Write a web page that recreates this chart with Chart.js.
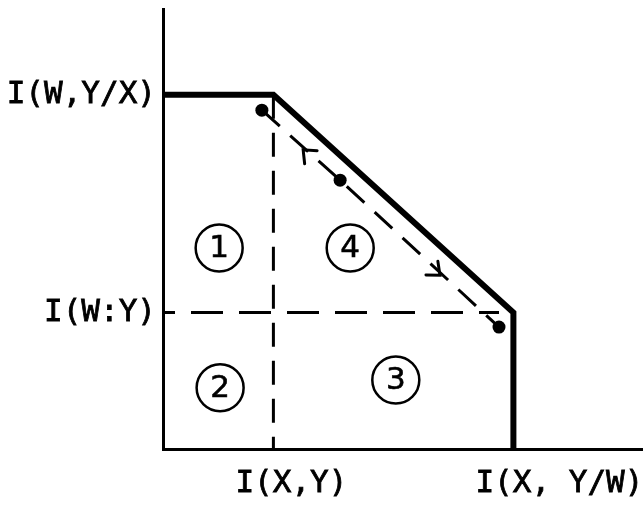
<!DOCTYPE html>
<html>
<head>
<meta charset="utf-8">
<script src="https://cdn.jsdelivr.net/npm/chart.js@4.4.0/dist/chart.umd.min.js"></script>
<style>
  html, body { margin: 0; padding: 0; background: #fff; }
  #wrap { width: 643px; height: 505px; }
</style>
</head>
<body>
<div id="wrap"><canvas id="c" width="643" height="505"></canvas></div>
<script>
// Axis boundary values and their labels
const xTickValues = [23, 73];
const xTickLabels = ['I(X,Y)', 'I(X, Y/W)'];
const yTickValues = [31, 80.5];
const yTickLabels = ['I(W:Y)', 'I(W,Y/X)'];

// Outer boundary of the region (thick outline)
const boundaryX = [0, 23, 73, 73];
const boundaryY = [80.5, 80.5, 31, 0];

// Dashed guides from the boundary corners
const guideVX = [23, 23];
const guideVY = [80.5, 0];
const guideHX = [0, 70];
const guideHY = [31, 31];

// Points along the dashed path
const pathX = [20.6, 36.9, 70.0];
const pathY = [77.0, 61.1, 27.7];

// Direction markers on the path, each heading toward one path point
const arrowX = [29.2, 57.7];
const arrowY = [68.0, 39.5];
const arrowToward = [0, 2];

// Numbered regions
const regionLabels = ['1', '4', '2', '3'];
const regionX = [11.7, 39.0, 11.9, 48.5];
const regionY = [45.7, 45.7, 13.9, 15.7];

const INK = '#000';
const pts = (xs, ys) => xs.map((v, i) => ({ x: v, y: ys[i] }));

// Keep the plot area pinned to the fixed axis positions
const noPad = s => {
  s.paddingLeft = s.paddingRight = s.paddingTop = s.paddingBottom = 0;
};

const markup = {
  id: 'markup',
  afterDatasetsDraw(chart) {
    const { ctx, scales: { x, y } } = chart;
    ctx.save();
    ctx.fillStyle = INK;
    ctx.strokeStyle = INK;
    ctx.font = '31px "DejaVu Sans"';
    ctx.textAlign = 'center';
    ctx.textBaseline = 'middle';
    ctx.lineWidth = 0.6;
    regionLabels.forEach((t, i) => {
      const px = x.getPixelForValue(regionX[i]), py = y.getPixelForValue(regionY[i]) + 1;
      ctx.fillText(t, px, py);
      ctx.strokeText(t, px, py);
    });
    ctx.lineWidth = 3;
    ctx.lineCap = 'round';
    arrowX.forEach((ax, i) => {
      const px = x.getPixelForValue(ax), py = y.getPixelForValue(arrowY[i]);
      const k = arrowToward[i];
      const tx = x.getPixelForValue(pathX[k]), ty = y.getPixelForValue(pathY[k]);
      const a = Math.atan2(ty - py, tx - px);
      const L = 14, h = 0.7;
      ctx.beginPath();
      ctx.moveTo(px + L * Math.cos(a + Math.PI - h), py + L * Math.sin(a + Math.PI - h));
      ctx.lineTo(px, py);
      ctx.lineTo(px + L * Math.cos(a + Math.PI + h), py + L * Math.sin(a + Math.PI + h));
      ctx.stroke();
    });
    ctx.restore();
  }
};

const tickFont = { family: '"DejaVu Sans Mono", monospace', size: 31 };

new Chart(document.getElementById('c'), {
  type: 'scatter',
  data: {
    datasets: [
      { data: pts(boundaryX, boundaryY), showLine: true, borderColor: INK, borderWidth: 6,
        pointRadius: 0, borderJoinStyle: 'miter', clip: false },
      { data: pts(guideVX, guideVY), showLine: true, borderColor: INK, borderWidth: 3,
        borderDash: [24, 14], pointRadius: 0, clip: false },
      { data: pts(guideHX, guideHY), showLine: true, borderColor: INK, borderWidth: 3,
        borderDash: [32, 16], borderDashOffset: 20, pointRadius: 0, clip: false },
      { data: pts(pathX, pathY), showLine: true, borderColor: INK, borderWidth: 3,
        borderDash: [24, 14], pointRadius: 6.5, pointBackgroundColor: INK, pointBorderWidth: 0,
        clip: false },
      { data: pts(regionX, regionY), showLine: false, pointRadius: 23.5, pointStyle: 'circle',
        pointBackgroundColor: 'rgba(0,0,0,0)', pointBorderColor: INK, pointBorderWidth: 2.5,
        clip: false }
    ]
  },
  options: {
    responsive: false,
    animation: false,
    devicePixelRatio: 1,
    layout: { autoPadding: false, padding: { top: 9, right: 0, bottom: 0, left: 0 } },
    plugins: { legend: { display: false }, tooltip: { enabled: false } },
    elements: { point: { hoverRadius: 0 } },
    scales: {
      x: {
        type: 'linear', min: 0, max: 100,
        afterBuildTicks: s => { s.ticks = xTickValues.map(v => ({ value: v })); },
        afterFit: s => { s.height = 56; noPad(s); },
        ticks: {
          callback: (v, i) => xTickLabels[i],
          autoSkip: false, maxRotation: 0, minRotation: 0,
          align: 'start', labelOffset: -38, padding: 16,
          font: tickFont, color: INK, textStrokeColor: INK, textStrokeWidth: 0.8
        },
        grid: { display: false, drawTicks: false },
        border: { display: true, width: 3, color: INK }
      },
      y: {
        type: 'linear', min: 0, max: 100,
        afterBuildTicks: s => { s.ticks = yTickValues.map(v => ({ value: v })); },
        afterFit: s => { s.width = 163; noPad(s); },
        ticks: {
          callback: (v, i) => yTickLabels[i],
          autoSkip: false, padding: 7,
          font: tickFont, color: INK, textStrokeColor: INK, textStrokeWidth: 0.8
        },
        grid: { display: false, drawTicks: false },
        border: { display: true, width: 3, color: INK }
      }
    }
  },
  plugins: [markup]
});
</script>
</body>
</html>
